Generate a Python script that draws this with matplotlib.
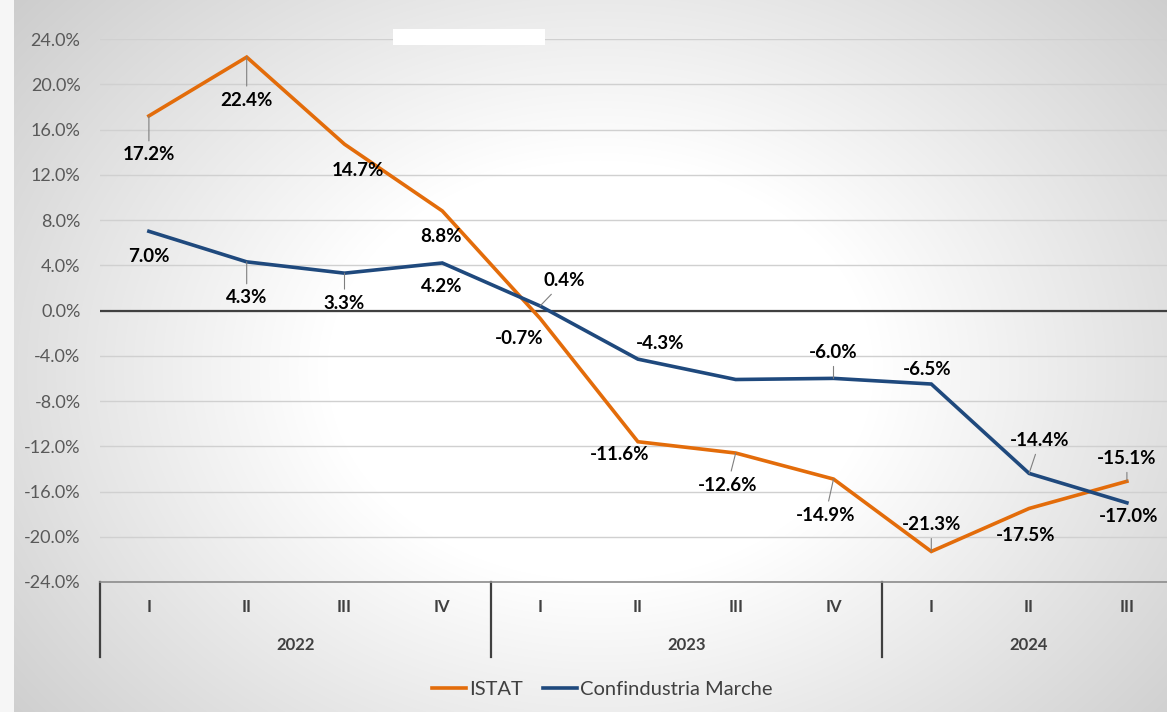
import numpy as np
import matplotlib.pyplot as plt
from matplotlib.patches import Rectangle

# ---------------------------------------------
# Data
# ---------------------------------------------
quarters = ["I", "II", "III", "IV", "I", "II", "III", "IV", "I", "II", "III"]
years = ["2022", "2023", "2024"]
quarters_per_year = [4, 4, 3]

istat = [17.2, 22.4, 14.7, 8.8, -0.7, -11.6, -12.6, -14.9, -21.3, -17.5, -15.1]
confind = [7.0, 4.3, 3.3, 4.2, 0.4, -4.3, -6.1, -6.0, -6.5, -14.4, -17.0]
confind_shown = [True, True, True, True, True, True, False, True, True, True, True]

# label placement (offset in pixels) and whether a leader line is drawn
istat_off = [(0, -39), (0, -43), (13, -26), (-1, -26), (-21, -20), (-18, -13),
             (-8, -32), (-8, -36), (0, 27), (-3, -27), (0, 23)]
istat_lead = [1, 1, 0, 0, 0, 0, 1, 1, 1, 0, 1]
confind_off = [(0, -25), (0, -36), (0, -30), (-1, -24), (24, 25), (22, 16),
               (0, 0), (0, 26), (-4, 15), (11, 33), (2, -14)]
confind_lead = [0, 1, 1, 0, 1, 0, 0, 1, 0, 1, 0]

ORANGE = "#E36C0A"
BLUE = "#1F497D"
FONT = "Lato"

plt.rcParams["font.family"] = [FONT, "DejaVu Sans"]

W, H = 1167, 712
fig = plt.figure(figsize=(W / 100, H / 100), dpi=100)

# ---------------------------------------------
# Radial gradient background
# ---------------------------------------------
yy, xx = np.mgrid[0:H, 0:W]
r = np.sqrt(((xx - 600) / 650.0) ** 2 + ((yy - 370) / 500.0) ** 2)
val = 1 - 0.25 * np.clip((r - 0.42) / 0.95, 0, None)
val = np.clip(val, 0.72, 1.0)
val[:, :14] = 0.965
img = np.dstack([val, val, val])
bg = fig.add_axes([0, 0, 1, 1], zorder=0)
bg.imshow(img, extent=(0, W, H, 0), aspect="auto", interpolation="bilinear")
bg.set_xlim(0, W)
bg.set_ylim(H, 0)
bg.axis("off")

# ---------------------------------------------
# Main plot
# ---------------------------------------------
left, right, top, bottom = 100, 1167, 39, 582
ax = fig.add_axes([left / W, 1 - bottom / H, (right - left) / W, (bottom - top) / H], zorder=1)
ax.set_facecolor("none")

x = np.arange(len(quarters))
ax.set_xlim(-0.5, -0.5 + (right - left) / 97.8)
ax.set_ylim(-24, 24)
ax.set_yticks(np.arange(-24, 25, 4))
ax.set_yticklabels([f"{v:.1f}%" for v in np.arange(-24, 25, 4)], color="#595959", fontsize=13)
ax.tick_params(axis="y", length=0, pad=14)
ax.set_xticks([])
ax.grid(axis="y", color="#d0d0d0", lw=1)
ax.set_axisbelow(True)
ax.axhline(0, color="#404040", lw=1.6, zorder=1.5)
for s in ["left", "right", "top"]:
    ax.spines[s].set_visible(False)
ax.spines["bottom"].set_color("#8c8c8c")
ax.spines["bottom"].set_linewidth(1.2)

ax.plot(x, istat, color=ORANGE, lw=2.6, label="ISTAT", zorder=3, solid_joinstyle="miter")
ax.plot(x, confind, color=BLUE, lw=2.6, label="Confindustria Marche", zorder=3,
        solid_joinstyle="miter")


def add_labels(values, offsets, leads, shown=None):
    for i, v in enumerate(values):
        if shown is not None and not shown[i]:
            continue
        dx, dy = offsets[i]
        props = None
        if leads[i]:
            props = dict(arrowstyle="-", color="#7f7f7f", lw=0.8, shrinkA=2, shrinkB=0)
        ax.annotate(f"{v:.1f}%", xy=(x[i], v), xytext=(dx, dy), textcoords="offset pixels",
                    ha="center", va="center", fontsize=13.5, fontweight="bold", color="black",
                    arrowprops=props, zorder=4)


add_labels(istat, istat_off, istat_lead)
add_labels(confind, confind_off, confind_lead, confind_shown)

# ---------------------------------------------
# Multi-level category axis
# ---------------------------------------------
tr = ax.get_xaxis_transform()
ah = bottom - top
y_q = -(607 - bottom) / ah
y_y = -(645 - bottom) / ah
y_end = -(657 - bottom) / ah
for i, q in enumerate(quarters):
    ax.text(x[i], y_q, q, transform=tr, ha="center", va="center", fontsize=12,
            fontweight="bold", color="#404040")

start = 0
bounds = [-0.5]
for yr, n in zip(years, quarters_per_year):
    mid = start + (n - 1) / 2
    ax.text(mid, y_y, yr, transform=tr, ha="center", va="center", fontsize=12,
            fontweight="bold", color="#404040")
    start += n
    bounds.append(start - 0.5)
for b in bounds[:-1]:
    ax.plot([b, b], [0, y_end], transform=tr, color="#404040", lw=1.6, clip_on=False)

fig.legend(loc="center", bbox_to_anchor=(0.516, 1 - 689 / H), ncol=2, frameon=False,
           fontsize=14.5, labelcolor="#404040", handlelength=1.7, columnspacing=1.0,
           handletextpad=0.15)

# blank white box near the top (hidden title), drawn over the grid
fig.add_artist(Rectangle((393 / W, 1 - 45 / H), 152 / W, 16 / H, transform=fig.transFigure,
                         facecolor="white", edgecolor="none", zorder=5))

fig.savefig("out.png", dpi=100)
